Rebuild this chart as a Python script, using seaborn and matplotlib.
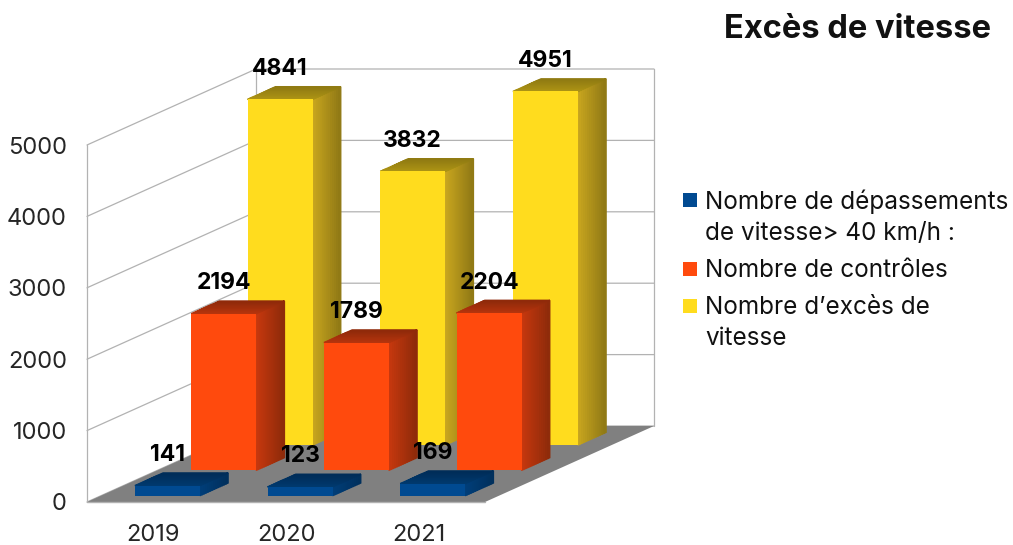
import numpy as np
import matplotlib
matplotlib.use("Agg")
import matplotlib.pyplot as plt
from matplotlib.colors import to_rgb
from matplotlib.patches import Rectangle
import seaborn as sns

# === DATA ===
years = ["2019", "2020", "2021"]
depassements = [141, 123, 169]
controles = [2194, 1789, 2204]
exces = [4841, 3832, 4951]
y_ticks = [0, 1000, 2000, 3000, 4000, 5000]

title = "Excès de vitesse"
legend_labels = ["Nombre de dépassements\nde vitesse> 40 km/h :", "Nombre de contrôles", "Nombre d’excès de\nvitesse"]

# === STYLE ===
W, H = 1013, 545
FONT = "Inter"
BASE_SIZE = 17.5
left, bottom, plot_w, plot_h = 87, 502, 398, 357   # front plane of the box, pixels
depth_x, depth_y = 169, 76                         # how far the back wall is shifted, pixels
n_rows = 3
gap = 0.25                                         # margin in a row, as share of row depth
line_col = "#b2b2b2"
floor_col = "#808080"

series = [
    # values, front, side start, side end, top near, top far
    (depassements, "#004a91", "#003f7a", "#002f5c", "#003a70", "#002c58"),
    (controles, "#ff4a0d", "#c9390e", "#8d2a0a", "#b8350d", "#8f2a0a"),
    (exces, "#ffdc1e", "#cba81f", "#8f7815", "#b09614", "#8f7a12"),
]

sns.set_theme(style="white")
plt.rcParams["font.family"] = [FONT, "DejaVu Sans"]
plt.rcParams["text.color"] = "#111111"

fig = plt.figure(figsize=(W / 100, H / 100), dpi=100, facecolor="white")


def add_layer(off_x, off_y, z):
    ax = fig.add_axes([(left + off_x) / W, (H - bottom + off_y) / H, plot_w / W, plot_h / H], zorder=z)
    ax.patch.set_alpha(0)
    return ax


def set_scale(ax):
    ax.set_xlim(-0.5, 2.5)
    ax.set_ylim(0, y_ticks[-1])


# size of the whole depth in data units (same on all layers)
DX = depth_x / (plot_w / len(years))
DY = depth_y / (plot_h / y_ticks[-1])


def strips(ax, corners, c0, c1, n=14):
    # corners: near_a, near_b, far_b, far_a, shaded from first pair to second
    c0, c1 = np.array(to_rgb(c0)), np.array(to_rgb(c1))
    a, b, c, d = [np.array(p) for p in corners]
    for i in range(n):
        t0, t1 = i / n, (i + 1) / n
        col = c0 + (c1 - c0) * (i + 0.5) / n
        pts = [a + (d - a) * t0, a + (d - a) * t1, b + (c - b) * t1, b + (c - b) * t0]
        ax.fill(*zip(*pts), facecolor=col, edgecolor=col, lw=1.0, clip_on=False, zorder=3)


# === BOX: walls and floor ===
base = add_layer(0, 0, 0)
sns.barplot(x=years, y=[0, 0, 0], ax=base)
set_scale(base)
x0, x1 = -0.5, 2.5
base.fill([x0, x1, x1 + DX, x0 + DX], [0, 0, DY, DY], color=floor_col, lw=0, clip_on=False, zorder=2)
for v in y_ticks:
    base.plot([x0, x0 + DX, x1 + DX], [v, v + DY, v + DY], color=line_col, lw=0.9, clip_on=False, zorder=1)
base.plot([x0, x0], [0, y_ticks[-1]], color=line_col, lw=0.9, clip_on=False)
base.plot([x0 + DX, x0 + DX], [DY, y_ticks[-1] + DY], color=line_col, lw=0.9, clip_on=False)
base.plot([x1 + DX, x1 + DX], [DY, y_ticks[-1] + DY], color=line_col, lw=0.9, clip_on=False)
base.plot([x0, x1], [0, 0], color=line_col, lw=1.0, clip_on=False, zorder=2.5)
base.set_yticks(y_ticks)
base.set_ylabel("")
base.tick_params(axis="both", length=0, labelsize=BASE_SIZE - 0.5)
base.tick_params(axis="y", pad=14.5)
base.tick_params(axis="x", pad=16)
sns.despine(ax=base, left=True, bottom=True)

# === BARS: one layer per row, back row first so the front ones cover it ===
for row in [2, 1, 0]:
    vals, front, side0, side1, top0, top1 = series[row]
    d = (row + gap) / n_rows
    ax = add_layer(d * depth_x, d * depth_y, 10 - row)
    sns.barplot(x=years, y=vals, color=front, saturation=1, width=0.49, linewidth=0, edgecolor="none", ax=ax, zorder=4)
    set_scale(ax)
    ax.axis("off")
    bdx, bdy = DX * (1 - 2 * gap) / n_rows, DY * (1 - 2 * gap) / n_rows
    for p in ax.patches:
        xa, xb, h = p.get_x(), p.get_x() + p.get_width(), p.get_height()
        strips(ax, [(xb, 0), (xb, h), (xb + bdx, h + bdy), (xb + bdx, bdy)], side0, side1)
        strips(ax, [(xa, h), (xb, h), (xb + bdx, h + bdy), (xa + bdx, h + bdy)], top0, top1)
    ax.bar_label(ax.containers[0], padding=14, fontsize=16.5, fontweight="bold", color="black")

# === TITLE + LEGEND ===
fig.text(857 / W, 1 - 29 / H, title, ha="center", va="center", fontsize=23.5, fontweight="bold", color="#111111")

legend_y = [190, 259, 296]
for (entry, label, y) in zip(series, legend_labels, legend_y):
    col = entry[1]
    fig.add_artist(Rectangle((683 / W, 1 - (y + 17) / H), 14 / W, 14 / H, transform=fig.transFigure, color=col, lw=0))
    fig.text(705 / W, 1 - y / H, label, ha="left", va="top", fontsize=BASE_SIZE, linespacing=1.43, color="#111111")

fig.savefig("out.png", dpi=100)
plt.close(fig)
